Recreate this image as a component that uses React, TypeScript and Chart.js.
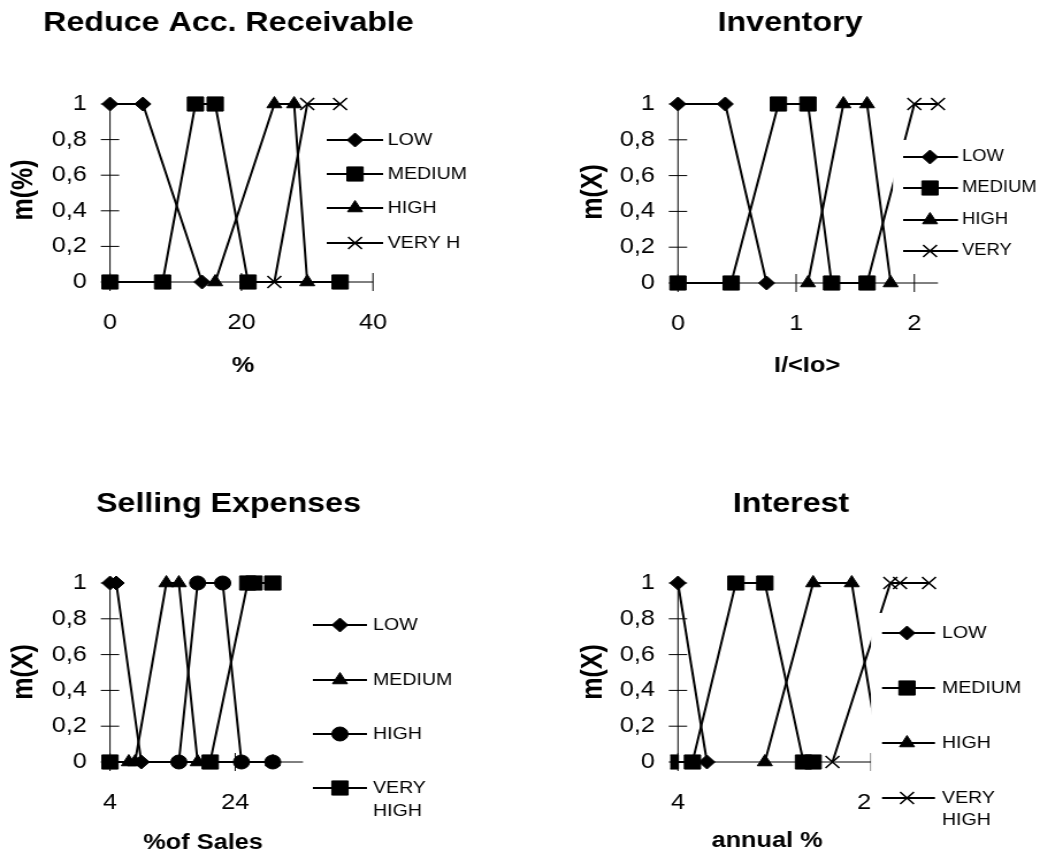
import React, { useEffect, useRef } from "react";
import { Chart, registerables } from "chart.js";
import { drawPoint } from "chart.js/helpers";

Chart.register(...registerables);

// ---------------- data ----------------
const recvNames = ["LOW", "MEDIUM", "HIGH", "VERY H"];
const invNames = ["LOW", "MEDIUM", "HIGH", "VERY"];
const sellNames = ["LOW", "MEDIUM", "HIGH", "VERY\nHIGH"];
const intNames = ["LOW", "MEDIUM", "HIGH", "VERY\nHIGH"];

const recvLow = [[0, 1], [5, 1], [14, 0]];
const recvMedium = [[0, 0], [8, 0], [13, 1], [16, 1], [21, 0], [35, 0]];
const recvHigh = [[16, 0], [25, 1], [28, 1], [30, 0]];
const recvVeryHigh = [[25, 0], [30, 1], [35, 1]];

const invLow = [[0, 1], [0.4, 1], [0.75, 0]];
const invMedium = [[0, 0], [0.45, 0], [0.85, 1], [1.1, 1], [1.3, 0], [1.6, 0]];
const invHigh = [[1.1, 0], [1.4, 1], [1.6, 1], [1.8, 0]];
const invVeryHigh = [[1.6, 0], [2, 1], [2.2, 1]];

const sellLow = [[4, 1], [5, 1], [9, 0]];
const sellMedium = [[7, 0], [8, 0], [13, 1], [15, 1], [18, 0], [30, 0]];
const sellHigh = [[15, 0], [18, 1], [22, 1], [25, 0], [30, 0]];
const sellVeryHigh = [[4, 0], [20, 0], [26, 1], [27, 1], [30, 1]];

const intLow = [[4, 1], [7, 0]];
const intMedium = [[3.2, 0], [5.5, 0], [10, 1], [13, 1], [17, 0], [18, 0]];
const intHigh = [[13, 0], [18, 1], [22, 1], [25, 0]];
const intVeryHigh = [[20, 0], [26, 1], [27, 1], [30, 1]];

const yTickValues = [0, 0.2, 0.4, 0.6, 0.8, 1];
const yTickLabels = ["0", "0,2", "0,4", "0,6", "0,8", "1"];
const recvXTicks = [0, 20, 40];
const invXTicks = [0, 1, 2];
const sellXTicks = [4, 24];
const intXTicks = [4, 24];

// ---------------- styling / layout ----------------
const FONT = '"Liberation Sans", Arial, Helvetica, sans-serif';
const W = 452; // internal canvas width, displayed at 520px
const CSS_W = 520;

type MarkKey = "diamond" | "square" | "triangle" | "cross" | "circle";
const MARKS: Record<MarkKey, { style: string; r: number; bw: number }> = {
  diamond: { style: "rectRot", r: 7, bw: 1 },
  square: { style: "rect", r: 10, bw: 1 },
  triangle: { style: "triangle", r: 7.5, bw: 1 },
  cross: { style: "crossRot", r: 8.5, bw: 1.6 },
  circle: { style: "circle", r: 7, bw: 1 },
};

interface Panel {
  left: number;
  top: number;
  h: number;
  area: { l: number; r: number; t: number; b: number };
  xMin: number;
  xMax: number;
  xTicks: number[];
  series: number[][][];
  names: string[];
  marks: MarkKey[];
  clipLeft?: (number | null)[];
  title: { text: string; x: number; y: number };
  yTitle: { text: string; x: number; y: number };
  xTitle: { text: string; x: number; y: number };
  legend: {
    box: [number, number, number, number];
    lineX: [number, number];
    markX: number;
    textX: number;
    ys: number[];
    lineGap: number;
    font: number;
  };
}

const PANELS: Panel[] = [
  {
    left: 0,
    top: 0,
    h: 430,
    area: { l: 95.6, r: 324.2, t: 104, b: 282 },
    xMin: 0,
    xMax: 40,
    xTicks: recvXTicks,
    series: [recvLow, recvMedium, recvHigh, recvVeryHigh],
    names: recvNames,
    marks: ["diamond", "square", "triangle", "cross"],
    title: { text: "Reduce Acc. Receivable", x: 198.6, y: 23.5 },
    yTitle: { text: "m(%)", x: 20.9, y: 190 },
    xTitle: { text: "%", x: 211.3, y: 366 },
    legend: {
      box: [278, 118, 174, 142],
      lineX: [284, 333],
      markX: 308.6,
      textX: 337,
      ys: [140, 174, 208, 243],
      lineGap: 22,
      font: 17,
    },
  },
  {
    left: 520,
    top: 0,
    h: 430,
    area: { l: 137.3, r: 363.3, t: 104, b: 283 },
    xMin: 0,
    xMax: 2.2,
    xTicks: invXTicks,
    series: [invLow, invMedium, invHigh, invVeryHigh],
    names: invNames,
    marks: ["diamond", "square", "triangle", "cross"],
    title: { text: "Inventory", x: 234.7, y: 23.5 },
    yTitle: { text: "m(X)", x: 64.3, y: 192 },
    xTitle: { text: "I/<Io>", x: 249.5, y: 366 },
    legend: {
      box: [324.2, 140, 127.8, 128],
      lineX: [333, 380.7],
      markX: 356.4,
      textX: 384.2,
      ys: [157, 188, 220, 251],
      lineGap: 22,
      font: 16,
    },
  },
  {
    left: 0,
    top: 430,
    h: 429,
    area: { l: 95.6, r: 264.3, t: 153, b: 332 },
    xMin: 4,
    xMax: 35,
    xTicks: sellXTicks,
    series: [sellLow, sellMedium, sellHigh, sellVeryHigh],
    names: sellNames,
    marks: ["diamond", "triangle", "circle", "square"],
    title: { text: "Selling Expenses", x: 198.6, y: 74 },
    yTitle: { text: "m(X)", x: 20.9, y: 242 },
    xTitle: { text: "%of Sales", x: 176.5, y: 413 },
    legend: {
      box: [263.4, 175, 150, 228],
      lineX: [272, 319],
      markX: 295.5,
      textX: 324.2,
      ys: [195, 250, 304, 358],
      lineGap: 23,
      font: 17,
    },
  },
  {
    left: 520,
    top: 430,
    h: 429,
    area: { l: 137.3, r: 355.5, t: 153, b: 332 },
    xMin: 4,
    xMax: 30,
    xTicks: intXTicks,
    series: [intLow, intMedium, intHigh, intVeryHigh],
    names: intNames,
    marks: ["diamond", "square", "triangle", "cross"],
    clipLeft: [null, 6.7, null, null],
    title: { text: "Interest", x: 235.6, y: 74 },
    yTitle: { text: "m(X)", x: 64.3, y: 242 },
    xTitle: { text: "annual %", x: 214.7, y: 411 },
    legend: {
      box: [305.1, 183, 146.9, 225],
      lineX: [314.7, 360.7],
      markX: 336.4,
      textX: 366.8,
      ys: [203, 258, 313, 368],
      lineGap: 22,
      font: 17,
    },
  },
];

function makeDecor(p: Panel) {
  return {
    id: "decor",
    beforeDatasetsDraw(chart: any) {
      const ctx = chart.ctx as CanvasRenderingContext2D;
      const { left, right, top, bottom } = chart.chartArea;
      const xs = chart.scales.x;
      const ys = chart.scales.y;
      ctx.save();
      ctx.strokeStyle = "#000";
      ctx.lineWidth = 1;
      ctx.beginPath();
      ctx.moveTo(left, top);
      ctx.lineTo(left, bottom);
      ctx.lineTo(right, bottom);
      for (const t of ys.ticks) {
        const y = ys.getPixelForValue(t.value);
        ctx.moveTo(left - 8, y);
        ctx.lineTo(left + 8, y);
      }
      for (const t of xs.ticks) {
        const x = xs.getPixelForValue(t.value);
        ctx.moveTo(x, bottom - 9);
        ctx.lineTo(x, bottom + 9);
      }
      ctx.stroke();
      ctx.restore();
    },
    afterDraw(chart: any) {
      const ctx = chart.ctx as CanvasRenderingContext2D;
      const lg = p.legend;
      ctx.save();
      // legend box (covers the plot, as in the original)
      ctx.fillStyle = "#fff";
      ctx.fillRect(lg.box[0], lg.box[1], lg.box[2], lg.box[3]);
      ctx.fillStyle = "#000";
      ctx.strokeStyle = "#000";
      ctx.font = `${lg.font}px ${FONT}`;
      ctx.textAlign = "left";
      ctx.textBaseline = "middle";
      p.names.forEach((name, i) => {
        const y = lg.ys[i];
        ctx.lineWidth = 2;
        ctx.beginPath();
        ctx.moveTo(lg.lineX[0], y);
        ctx.lineTo(lg.lineX[1], y);
        ctx.stroke();
        const m = MARKS[p.marks[i]];
        ctx.lineWidth = m.bw;
        drawPoint(ctx, { pointStyle: m.style as any, radius: m.r, borderWidth: m.bw, rotation: 0 } as any, lg.markX, y);
        name.split("\n").forEach((ln, k) => {
          ctx.fillText(ln, lg.textX, y + k * lg.lineGap);
        });
      });
      // titles
      ctx.textAlign = "center";
      ctx.textBaseline = "middle";
      ctx.font = `bold 28px ${FONT}`;
      ctx.fillText(p.title.text, p.title.x, p.title.y);
      ctx.font = `bold 22px ${FONT}`;
      ctx.fillText(p.xTitle.text, p.xTitle.x, p.xTitle.y);
      ctx.font = `bold 25px ${FONT}`;
      ctx.translate(p.yTitle.x, p.yTitle.y);
      ctx.rotate(-Math.PI / 2);
      ctx.fillText(p.yTitle.text, 0, 0);
      ctx.restore();
    },
  };
}

function makeChart(canvas: HTMLCanvasElement, p: Panel) {
  const a = p.area;
  const tickFont = { family: FONT, size: 22 };
  const datasets = p.series.map((pts, i) => {
    const m = MARKS[p.marks[i]];
    const cl = p.clipLeft ? p.clipLeft[i] : null;
    return {
      label: p.names[i],
      data: pts.map(([x, y]) => ({ x, y })),
      borderColor: "#000",
      backgroundColor: "#000",
      borderWidth: 2,
      tension: 0,
      fill: false,
      pointStyle: m.style,
      pointRadius: m.r,
      pointHoverRadius: m.r,
      pointBackgroundColor: "#000",
      pointBorderColor: "#000",
      pointBorderWidth: m.bw,
      clip: cl == null ? (false as any) : ({ left: cl, top: false, right: false, bottom: false } as any),
      order: 10 - i,
    };
  });
  return new Chart(canvas, {
    type: "line",
    data: { datasets: datasets as any },
    options: {
      responsive: false,
      animation: false,
      devicePixelRatio: 1,
      events: [],
      layout: { padding: { left: 0, top: a.t, right: W - a.r, bottom: 0 } },
      plugins: {
        legend: { display: false },
        title: { display: false },
        tooltip: { enabled: false },
      },
      scales: {
        x: {
          type: "linear",
          min: p.xMin,
          max: p.xMax,
          grid: { display: false, drawTicks: false, tickLength: 0 },
          border: { display: false },
          afterBuildTicks: (s: any) => {
            s.ticks = p.xTicks.map((v) => ({ value: v }));
          },
          afterFit: (s: any) => {
            s.height = p.h - a.b;
          },
          ticks: {
            font: tickFont,
            color: "#000",
            padding: 28,
            autoSkip: false,
            maxRotation: 0,
            callback: (v: any) => String(v),
          },
        },
        y: {
          type: "linear",
          min: 0,
          max: 1,
          grid: { display: false, drawTicks: false, tickLength: 0 },
          border: { display: false },
          afterBuildTicks: (s: any) => {
            s.ticks = yTickValues.map((v) => ({ value: v }));
          },
          afterFit: (s: any) => {
            s.width = a.l;
          },
          ticks: {
            font: tickFont,
            color: "#000",
            padding: 20,
            autoSkip: false,
            callback: (_v: any, i: number) => yTickLabels[i],
          },
        },
      },
    } as any,
    plugins: [makeDecor(p)],
  });
}

export default function App() {
  const canvases = useRef<(HTMLCanvasElement | null)[]>([]);
  useEffect(() => {
    const charts = PANELS.map((p, i) => makeChart(canvases.current[i] as HTMLCanvasElement, p));
    return () => charts.forEach((c) => c.destroy());
  }, []);
  return (
    <div style={{ position: "absolute", left: 0, top: 0, width: 1040, height: 859, background: "#fff" }}>
      {PANELS.map((p, i) => (
        <canvas
          key={i}
          ref={(el) => {
            canvases.current[i] = el;
          }}
          width={W}
          height={p.h}
          style={{ position: "absolute", left: p.left, top: p.top, width: CSS_W, height: p.h }}
        />
      ))}
    </div>
  );
}
